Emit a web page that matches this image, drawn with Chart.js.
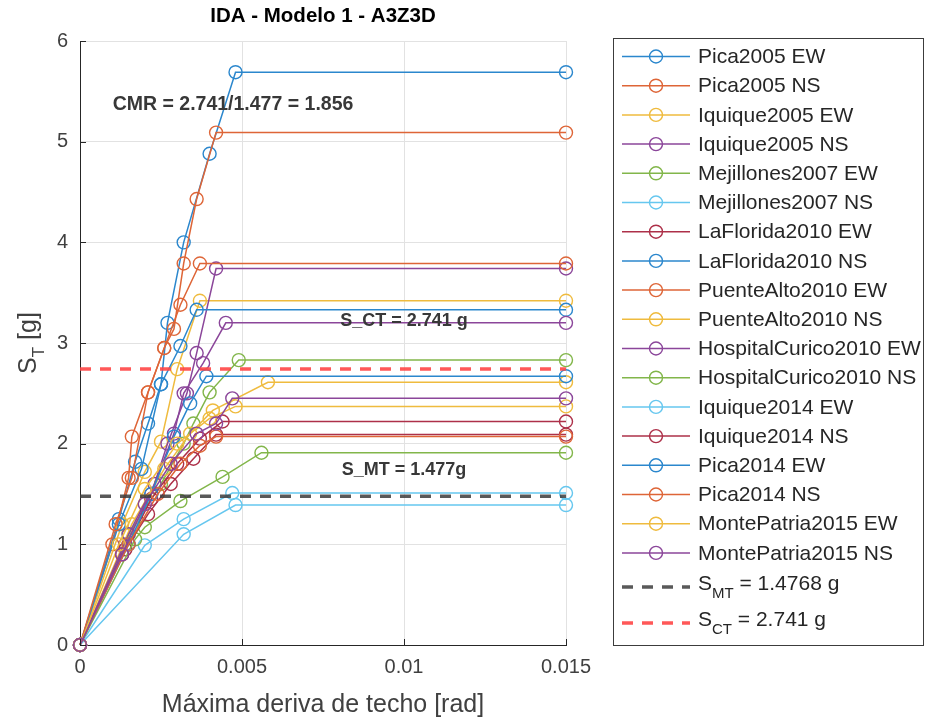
<!DOCTYPE html>
<html>
<head>
<meta charset="utf-8">
<title>IDA - Modelo 1 - A3Z3D</title>
<script src="https://cdn.jsdelivr.net/npm/chart.js@4.4.1/dist/chart.umd.min.js"></script>
<style>
  html, body { margin: 0; padding: 0; background: #fff; }
  #wrap { width: 925px; height: 721px; }
</style>
</head>
<body>
<div id="wrap"><canvas id="idaChart" width="925" height="721"></canvas></div>
<script>
// records used in the IDA
const seriesNames = [
    'Pica2005 EW', 'Pica2005 NS', 'Iquique2005 EW', 'Iquique2005 NS',
    'Mejillones2007 EW', 'Mejillones2007 NS', 'LaFlorida2010 EW', 'LaFlorida2010 NS',
    'PuenteAlto2010 EW', 'PuenteAlto2010 NS', 'HospitalCurico2010 EW', 'HospitalCurico2010 NS',
    'Iquique2014 EW', 'Iquique2014 NS', 'Pica2014 EW', 'Pica2014 NS',
    'MontePatria2015 EW', 'MontePatria2015 NS'
];

// max roof drift [rad] for each record
const driftData = [
    [0, 0.0012, 0.0017, 0.0021, 0.0025, 0.0027, 0.0032, 0.0040, 0.0048, 0.015],
    [0, 0.0010, 0.0015, 0.0016, 0.0021, 0.0026, 0.0029, 0.0032, 0.0036, 0.0042, 0.015],
    [0, 0.0013, 0.0020, 0.0025, 0.0030, 0.0037, 0.015],
    [0, 0.0014, 0.0022, 0.0027, 0.0033, 0.0036, 0.0042, 0.015],
    [0, 0.0015, 0.0025, 0.0032, 0.0035, 0.0040, 0.0049, 0.015],
    [0, 0.0020, 0.0032, 0.0047, 0.015],
    [0, 0.0014, 0.0022, 0.0030, 0.0037, 0.0044, 0.015],
    [0, 0.0012, 0.0019, 0.0025, 0.0031, 0.0036, 0.015],
    [0, 0.0011, 0.0016, 0.0021, 0.0026, 0.0031, 0.0037, 0.015],
    [0, 0.0016, 0.0026, 0.0034, 0.0041, 0.0058, 0.015],
    [0, 0.0015, 0.0023, 0.0029, 0.0032, 0.0038, 0.0045, 0.015],
    [0, 0.0017, 0.0020, 0.0031, 0.0044, 0.0056, 0.015],
    [0, 0.0032, 0.0048, 0.015],
    [0, 0.0013, 0.0021, 0.0028, 0.0035, 0.0042, 0.015],
    [0, 0.0015, 0.0022, 0.0029, 0.0034, 0.0039, 0.015],
    [0, 0.0015, 0.0024, 0.0031, 0.0037, 0.0042, 0.015],
    [0, 0.0012, 0.0020, 0.0030, 0.0040, 0.0048, 0.015],
    [0, 0.0013, 0.0020, 0.0028, 0.0036, 0.0042, 0.0047, 0.015]
];

// spectral acceleration S_T [g] for each record
const saData = [
    [0, 1.25, 1.82, 2.20, 2.59, 3.20, 4.00, 4.88, 5.69, 5.69],
    [0, 1.00, 1.66, 2.07, 2.51, 2.95, 3.14, 3.79, 4.43, 5.09, 5.09],
    [0, 1.20, 1.72, 2.02, 2.74, 3.42, 3.42],
    [0, 1.00, 1.50, 2.00, 2.50, 2.90, 3.74, 3.74],
    [0, 1.10, 1.60, 2.00, 2.20, 2.51, 2.83, 2.83],
    [0, 0.99, 1.25, 1.51, 1.51],
    [0, 0.95, 1.45, 1.80, 2.05, 2.22, 2.22],
    [0, 1.20, 1.75, 2.59, 2.97, 3.33, 3.33],
    [0, 1.20, 1.66, 2.51, 2.95, 3.38, 3.79, 3.79],
    [0, 1.20, 1.75, 2.10, 2.33, 2.61, 2.61],
    [0, 1.10, 1.60, 2.10, 2.50, 2.80, 3.20, 3.20],
    [0, 1.05, 1.17, 1.43, 1.67, 1.91, 1.91],
    [0, 1.10, 1.39, 1.39],
    [0, 0.90, 1.30, 1.60, 1.85, 2.09, 2.09],
    [0, 1.00, 1.50, 2.07, 2.40, 2.67, 2.67],
    [0, 1.00, 1.50, 1.80, 1.98, 2.07, 2.07],
    [0, 1.00, 1.55, 2.00, 2.25, 2.37, 2.37],
    [0, 0.90, 1.40, 1.80, 2.10, 2.20, 2.45, 2.45]
];

const sMT = 1.4768;   // S_MT [g]
const sCT = 2.741;    // S_CT [g]
const cmrText = 'CMR = 2.741/1.477 = 1.856';

const xTicks = [0, 0.005, 0.01, 0.015];
const xTickLabels = ['0', '0.005', '0.01', '0.015'];
const yTicks = [0, 1, 2, 3, 4, 5, 6];

// matlab default color order, a bit lighter
const colorOrder = ['#2b87cd', '#de6537', '#efbb3e', '#8b469a', '#82b64a', '#66c7ef', '#ad3049'];

const FONT = "'Liberation Sans', Arial, sans-serif";
const AXIS_TXT = '#404040';

const datasets = seriesNames.map(function(name, i) {
    return {
        label: name,
        data: driftData[i].map(function(x, j) { return { x: x, y: saData[i][j] }; }),
        borderColor: colorOrder[i % colorOrder.length],
        backgroundColor: 'rgba(0,0,0,0)',
        borderWidth: 1.5,
        pointStyle: 'circle',
        pointRadius: 6.5,
        pointBorderWidth: 1.4,
        pointBackgroundColor: 'rgba(0,0,0,0)',
        tension: 0,
        clip: false,
        order: 100 - i
    };
});

datasets.push({
    label: 'S_MT',
    legendText: ['S', 'MT', ' = 1.4768 g'],
    data: [{ x: 0, y: sMT }, { x: 0.015, y: sMT }],
    borderColor: 'rgba(60,60,60,0.85)',
    borderWidth: 3.5,
    borderDash: [11, 9],
    pointRadius: 0,
    clip: false,
    order: 2
});
datasets.push({
    label: 'S_CT',
    legendText: ['S', 'CT', ' = 2.741 g'],
    data: [{ x: 0, y: sCT }, { x: 0.015, y: sCT }],
    borderColor: 'rgba(255,70,70,0.9)',
    borderWidth: 3.5,
    borderDash: [11, 9],
    pointRadius: 0,
    clip: false,
    order: 1
});

// draws "S" + subscript + rest, starting at x, middle line at y
function drawSubLabel(ctx, parts, x, y, size, color) {
    ctx.fillStyle = color;
    ctx.textBaseline = 'middle';
    ctx.textAlign = 'left';
    ctx.font = size + 'px ' + FONT;
    ctx.fillText(parts[0], x, y - 3);
    let w = ctx.measureText(parts[0]).width;
    ctx.font = Math.round(size * 0.72) + 'px ' + FONT;
    ctx.fillText(parts[1], x + w, y + 7);
    w += ctx.measureText(parts[1]).width;
    ctx.font = size + 'px ' + FONT;
    ctx.fillText(parts[2], x + w, y - 3);
}

const decorPlugin = {
    id: 'matlabDecor',
    afterDraw: function(chart) {
        const ctx = chart.ctx;
        const area = chart.chartArea;
        const xs = chart.scales.x, ys = chart.scales.y;
        ctx.save();

        // inside tick marks
        ctx.strokeStyle = '#262626';
        ctx.lineWidth = 1;
        ctx.setLineDash([]);
        ctx.beginPath();
        xTicks.forEach(function(v) {
            const px = Math.round(xs.getPixelForValue(v)) + 0.5;
            ctx.moveTo(px, area.bottom);
            ctx.lineTo(px, area.bottom - 6);
        });
        yTicks.forEach(function(v) {
            const py = Math.round(ys.getPixelForValue(v)) + 0.5;
            ctx.moveTo(area.left, py);
            ctx.lineTo(area.left + 6, py);
        });
        ctx.stroke();

        // title
        ctx.fillStyle = '#000';
        ctx.font = 'bold 20.5px ' + FONT;
        ctx.textAlign = 'center';
        ctx.textBaseline = 'middle';
        ctx.fillText('IDA - Modelo 1 - A3Z3D', (area.left + area.right) / 2, 16);

        // x axis title
        ctx.fillStyle = AXIS_TXT;
        ctx.font = '25px ' + FONT;
        ctx.fillText('Máxima deriva de techo [rad]', (area.left + area.right) / 2, 705);

        // y axis title, rotated
        ctx.save();
        ctx.translate(31, (area.top + area.bottom) / 2);
        ctx.rotate(-Math.PI / 2);
        ctx.font = '25px ' + FONT;
        const wS = ctx.measureText('S').width;
        ctx.font = '17px ' + FONT;
        const wT = ctx.measureText('T').width;
        ctx.font = '25px ' + FONT;
        const wG = ctx.measureText(' [g]').width;
        let x0 = -(wS + wT + wG) / 2;
        ctx.textAlign = 'left';
        ctx.fillText('S', x0, -2);
        ctx.font = '17px ' + FONT;
        ctx.fillText('T', x0 + wS, 8);
        ctx.font = '25px ' + FONT;
        ctx.fillText(' [g]', x0 + wS + wT, -2);
        ctx.restore();

        // annotations
        ctx.fillStyle = '#383838';
        ctx.textAlign = 'center';
        ctx.font = 'bold 19.5px ' + FONT;
        ctx.fillText(cmrText, 233, 105);
        ctx.font = 'bold 18px ' + FONT;
        ctx.fillText('S_CT = ' + sCT.toFixed(3) + ' g', 404, 321);
        ctx.fillText('S_MT = ' + sMT.toFixed(3) + 'g', 404, 470);

        // legend
        const box = { l: 613.5, t: 38.5, r: 923.5, b: 645.5 };
        ctx.fillStyle = '#fff';
        ctx.fillRect(box.l, box.t, box.r - box.l, box.b - box.t);
        ctx.strokeStyle = '#3c3c3c';
        ctx.lineWidth = 1;
        ctx.strokeRect(box.l, box.t, box.r - box.l, box.b - box.t);

        ctx.beginPath();
        ctx.rect(box.l, box.t, box.r - box.l, box.b - box.t);
        ctx.clip();

        chart.data.datasets.forEach(function(ds, i) {
            let y;
            if (i < seriesNames.length) y = 56.5 + 29.2 * i;
            else y = i === seriesNames.length ? 587 : 623;
            ctx.strokeStyle = ds.borderColor;
            ctx.lineWidth = ds.borderWidth;
            ctx.setLineDash(ds.borderDash || []);
            ctx.beginPath();
            ctx.moveTo(622, y);
            ctx.lineTo(690, y);
            ctx.stroke();
            ctx.setLineDash([]);
            if (ds.pointRadius > 0) {
                ctx.lineWidth = ds.pointBorderWidth;
                ctx.beginPath();
                ctx.arc(656, y, ds.pointRadius, 0, Math.PI * 2);
                ctx.stroke();
            }
            if (ds.legendText) {
                drawSubLabel(ctx, ds.legendText, 698, y, 21, '#262626');
            } else {
                ctx.fillStyle = '#262626';
                ctx.font = '21px ' + FONT;
                ctx.textAlign = 'left';
                ctx.textBaseline = 'middle';
                ctx.fillText(ds.label, 698, y + 1);
            }
        });
        ctx.restore();
    }
};

const ctx = document.getElementById('idaChart').getContext('2d');
const idaChart = new Chart(ctx, {
    type: 'line',
    data: { datasets: datasets },
    options: {
        responsive: false,
        animation: false,
        devicePixelRatio: 1,
        layout: { padding: { left: 0, right: 359, top: 41, bottom: 0 } },
        plugins: {
            legend: { display: false },
            title: { display: false },
            tooltip: { enabled: false }
        },
        scales: {
            x: {
                type: 'linear',
                min: 0,
                max: 0.015,
                afterBuildTicks: function(scale) {
                    scale.ticks = xTicks.map(function(v) { return { value: v }; });
                },
                afterFit: function(scale) { scale.height = 76; },
                ticks: {
                    callback: function(v, i) { return xTickLabels[i]; },
                    font: { family: FONT, size: 20 },
                    color: AXIS_TXT,
                    padding: 10,
                    maxRotation: 0,
                    autoSkip: false
                },
                grid: { color: '#e2e2e2', drawTicks: false },
                border: { display: true, color: '#262626', width: 1 }
            },
            y: {
                type: 'linear',
                min: 0,
                max: 6,
                afterBuildTicks: function(scale) {
                    scale.ticks = yTicks.map(function(v) { return { value: v }; });
                },
                afterFit: function(scale) { scale.width = 80; },
                ticks: {
                    callback: function(v) { return String(v); },
                    font: { family: FONT, size: 20 },
                    color: AXIS_TXT,
                    padding: 12
                },
                grid: { color: '#e2e2e2', drawTicks: false },
                border: { display: true, color: '#262626', width: 1 }
            }
        }
    },
    plugins: [decorPlugin]
});
</script>
</body>
</html>
